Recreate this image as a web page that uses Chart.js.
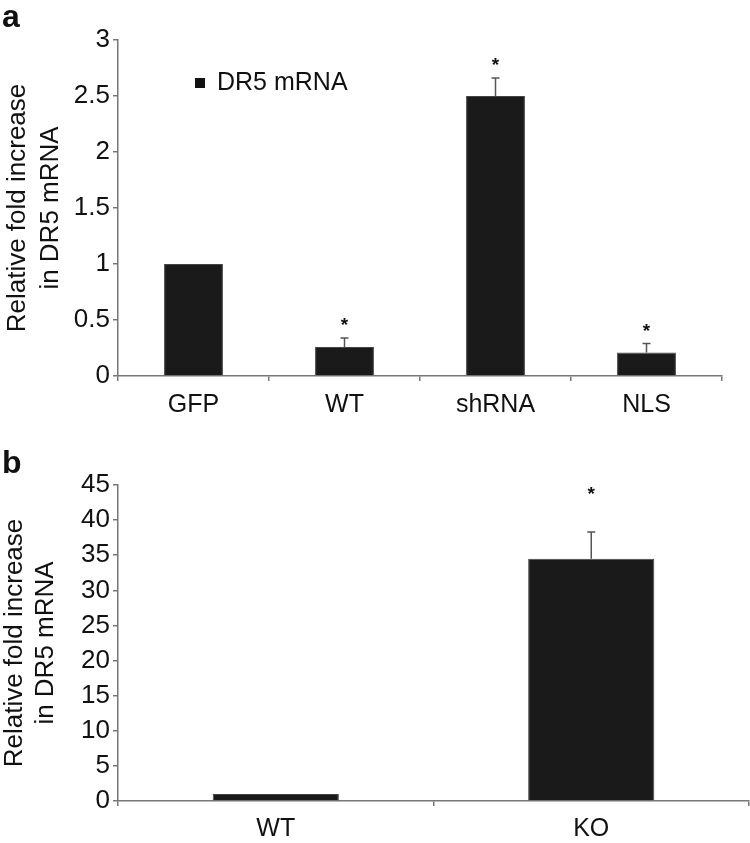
<!DOCTYPE html>
<html>
<head>
<meta charset="utf-8">
<script src="https://cdn.jsdelivr.net/npm/chart.js@4.4.0/dist/chart.umd.min.js"></script>
<style>
  body { margin: 0; background: #fff; }
  #page { position: relative; width: 750px; height: 843px; font-family: "Liberation Sans", Arial, sans-serif; color: #111; }
  .panel { position: absolute; left: 0; width: 750px; }
  #wrapA { top: 0; height: 440px; }
  #wrapB { top: 440px; height: 403px; }
  .tag { position: absolute; left: 2px; font-weight: bold; font-size: 32px; line-height: 32px; }
</style>
</head>
<body>
<div id="page">
  <div class="panel" id="wrapA"><canvas id="chartA" width="750" height="440"></canvas></div>
  <div class="panel" id="wrapB"><canvas id="chartB" width="750" height="403"></canvas></div>
  <div class="tag" style="top:0px">a</div>
  <div class="tag" style="top:446px">b</div>
</div>
<script>
// panel a: DR5 mRNA, fold increase over GFP
const catsA = ['GFP', 'WT', 'shRNA', 'NLS'];
const valsA = [1, 0.26, 2.5, 0.21];
const errA = [0, 0.08, 0.16, 0.08];
const starA = [false, true, true, true];
const yMaxA = 3;
const yStepA = 0.5;

// panel b: WT vs KO
const catsB = ['WT', 'KO'];
const valsB = [1, 34.5];
const errB = [0, 3.8];
const starB = [false, true];
const yMaxB = 45;
const yStepB = 5;

const seriesLabel = 'DR5 mRNA';
const yTitle = ['Relative fold increase', 'in DR5 mRNA'];

Chart.defaults.font.family = "'Liberation Sans', Arial, sans-serif";
Chart.defaults.color = '#111';

// draws the upper error bars and the asterisks above them
const errorBarPlugin = {
  id: 'errorBars',
  afterDatasetsDraw(chart, args, opts) {
    const ctx = chart.ctx;
    const meta = chart.getDatasetMeta(0);
    const yScale = chart.scales.y;
    ctx.save();
    meta.data.forEach((bar, i) => {
      const top = yScale.getPixelForValue(opts.values[i] + opts.errors[i]);
      if (opts.errors[i] > 0) {
        ctx.strokeStyle = '#555';
        ctx.lineWidth = 1.5;
        ctx.beginPath();
        ctx.moveTo(bar.x, bar.y);
        ctx.lineTo(bar.x, top);
        ctx.moveTo(bar.x - 4, top);
        ctx.lineTo(bar.x + 4, top);
        ctx.stroke();
      }
      if (opts.stars[i]) {
        ctx.fillStyle = '#111';
        ctx.font = "bold 19px 'Liberation Sans', Arial, sans-serif";
        ctx.textAlign = 'center';
        ctx.textBaseline = 'alphabetic';
        ctx.fillText('*', bar.x, top - opts.starGap + 10);
      }
    });
    ctx.restore();
  }
};

// small legend box inside the plot area (panel a only)
const innerLegendPlugin = {
  id: 'innerLegend',
  afterDraw(chart, args, opts) {
    if (!opts.show) return;
    const ctx = chart.ctx;
    const left = chart.chartArea.left;
    ctx.save();
    ctx.fillStyle = '#111';
    ctx.fillRect(left + 77, 78, 10, 10);
    ctx.font = "25px 'Liberation Sans', Arial, sans-serif";
    ctx.textBaseline = 'middle';
    ctx.fillText(chart.data.datasets[0].label, left + 99, 83);
    ctx.restore();
  }
};

function makeChart(id, cats, vals, errs, stars, yMax, yStep, opt) {
  const ctx = document.getElementById(id).getContext('2d');
  return new Chart(ctx, {
    type: 'bar',
    data: {
      labels: cats,
      datasets: [{
        label: seriesLabel,
        data: vals,
        backgroundColor: '#1a1a1a',
        borderColor: '#444',
        borderWidth: 1,
        categoryPercentage: 1,
        barPercentage: opt.barPct,
      }],
    },
    options: {
      responsive: false,
      animation: false,
      layout: { padding: { top: opt.padTop, right: opt.padRight, left: 0, bottom: 0 } },
      scales: {
        x: {
          offset: true,
          grid: { offset: true, drawOnChartArea: false, tickLength: 5, color: '#777', lineWidth: 1.5 },
          border: { color: '#777', width: 1.5 },
          ticks: { color: '#111', font: { size: 25 }, padding: opt.xPad },
          afterFit(s) { s.height = opt.xHeight; },
        },
        y: {
          min: 0,
          max: yMax,
          ticks: { stepSize: yStep, color: '#111', font: { size: 26 }, padding: 3, callback: v => String(v) },
          grid: { drawOnChartArea: false, tickLength: 5, color: '#777', lineWidth: 1.5 },
          border: { color: '#777', width: 1.5 },
          title: {
            display: true,
            text: yTitle,
            color: '#111',
            font: { size: 26, lineHeight: opt.titleLH },
            padding: { top: opt.titlePad, bottom: 0 },
          },
          afterFit(s) { s.width = 118; },
        },
      },
      plugins: {
        legend: { display: false },
        tooltip: { enabled: false },
        errorBars: { values: vals, errors: errs, stars: stars, starGap: opt.starGap },
        innerLegend: { show: opt.legend },
      },
    },
    plugins: [errorBarPlugin, innerLegendPlugin],
  });
}

makeChart('chartA', catsA, valsA, errA, starA, yMaxA, yStepA,
  { barPct: 0.39, padTop: 40, padRight: 28, xHeight: 64, xPad: 9, titleLH: 1.27, titlePad: 1, starGap: 17, legend: true });
makeChart('chartB', catsB, valsB, errB, starB, yMaxB, yStepB,
  { barPct: 0.4, padTop: 45, padRight: 1, xHeight: 42, xPad: 8, titleLH: 1.17, titlePad: 0, starGap: 42, legend: false });
</script>
</body>
</html>
